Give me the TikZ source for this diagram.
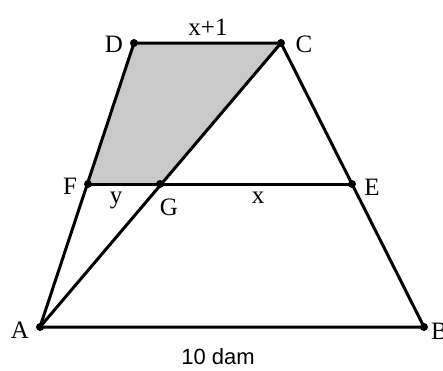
\documentclass[tikz,border=0pt]{standalone}
\usepackage{fontspec}
\setmainfont{Liberation Serif}
\newfontfamily\arialfont{Liberation Sans}
\begin{document}
\begin{tikzpicture}[x=1pt,y=-1pt,
  seg/.style={line width=3pt},
  pt/.style={circle,fill=black,inner sep=0pt,minimum size=8pt},
  lab/.style={font=\fontsize{25}{25}\selectfont,inner sep=0pt}]
\useasboundingbox[fill=white] (0,0) rectangle (443,370);
\coordinate (D) at (134,43);
\coordinate (C) at (281,43);
\coordinate (F) at (88,184);
\coordinate (G) at (160,184);
\coordinate (E) at (352,184);
\coordinate (A) at (40,327);
\coordinate (B) at (424,327);
\fill[gray!42] (D) -- (C) -- (G) -- (F) -- cycle;
\draw[seg,line join=round] (A) -- (D) -- (C) -- (B) -- cycle;
\draw[seg] (F) -- (E);
\draw[seg] (A) -- (C);
\foreach \p in {D,C,F,G,E,A,B} \node[pt] at (\p) {};
\node[lab] (lD) at (114,44) {D};
\node[lab] (lC) at (304,44) {C};
\node[lab] (lx1) at (208,27) {x+1};
\node[lab] (lF) at (70,186) {F};
\node[lab] (lE) at (372,187) {E};
\node[lab] (ly) at (116,200) {y};
\node[lab] (lG) at (169,207) {G};
\node[lab] (lx) at (258,198) {x};
\node[lab] (lA) at (20,330) {A};
\node[lab,anchor=west] (lB) at (431,331) {B};
\node[lab,font=\arialfont\fontsize{22}{22}\selectfont] (l10) at (218,357) {10 dam};
\end{tikzpicture}
\end{document}
